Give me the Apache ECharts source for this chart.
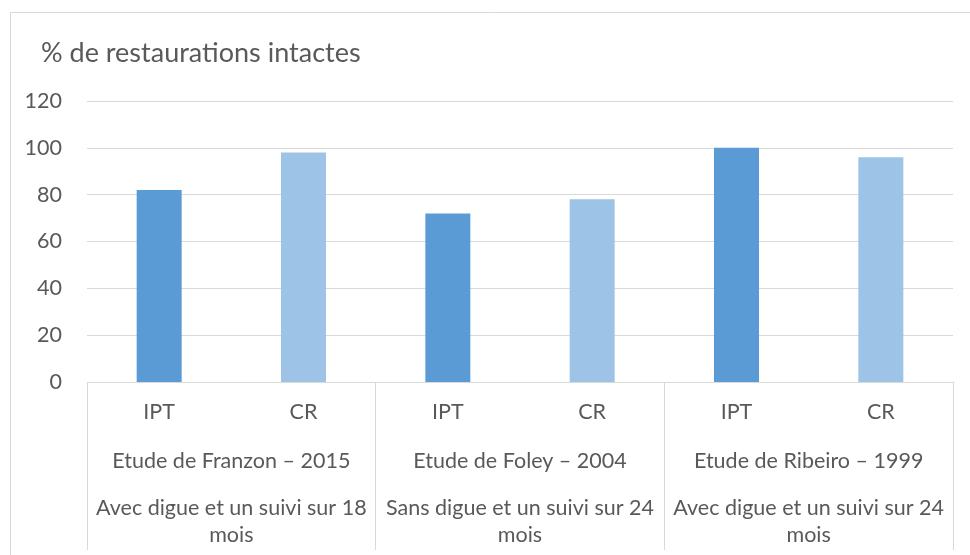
<!DOCTYPE html>
<html>
<head>
<meta charset="utf-8">
<script src="https://cdn.jsdelivr.net/npm/echarts@6/dist/echarts.min.js"></script>
<style>
  html, body { margin: 0; padding: 0; background: #fff; }
  #chart { width: 970px; height: 555px; }
</style>
</head>
<body>
<div id="chart"></div>
<script>
const treatments = ['IPT', 'CR', 'IPT', 'CR', 'IPT', 'CR'];
const values = [82, 98, 72, 78, 100, 96];
const studies = ['Etude de Franzon \u2013 2015', 'Etude de Foley \u2013 2004', 'Etude de Ribeiro \u2013 1999'];
const protocols = [
  'Avec digue et un suivi sur 18\nmois',
  'Sans digue et un suivi sur 24\nmois',
  'Avec digue et un suivi sur 24\nmois'
];
const barColors = { IPT: '#5B9BD5', CR: '#9DC3E6' };

const font = 'Lato, "Open Sans", sans-serif';
const textColor = '#595959';
const lineColor = '#d9d9d9';

const chart = echarts.init(document.getElementById('chart'));

chart.setOption({
  animation: false,
  backgroundColor: '#fff',
  textStyle: { fontFamily: font },
  title: {
    text: '% de restaurations intactes',
    left: 36,
    top: 35,
    textStyle: { color: textColor, fontSize: 27, fontWeight: 'normal', fontFamily: font }
  },
  graphic: [{
    type: 'rect',
    shape: { x: 10.5, y: 12.5, width: 1000, height: 700 },
    style: { fill: 'none', stroke: lineColor, lineWidth: 1 },
    silent: true
  }],
  grid: { left: 87, right: 17, top: 101, bottom: 173, outerBoundsMode: 'none' },
  xAxis: [
    {
      type: 'category',
      position: 'bottom',
      data: treatments,
      axisLine: { show: true, lineStyle: { color: lineColor, width: 1 } },
      axisTick: { show: false },
      axisLabel: { color: textColor, fontSize: 21.5, margin: 19, fontFamily: font, interval: 0 }
    },
    {
      type: 'category',
      position: 'bottom',
      data: studies,
      axisLine: { show: false },
      axisTick: { show: true, length: 168, lineStyle: { color: lineColor, width: 1 } },
      axisLabel: { color: textColor, fontSize: 21.5, margin: 68, fontFamily: font, interval: 0 }
    },
    {
      type: 'category',
      position: 'bottom',
      data: protocols,
      axisLine: { show: false },
      axisTick: { show: false },
      axisLabel: { color: textColor, fontSize: 21.5, lineHeight: 27, margin: 113, fontFamily: font, interval: 0 }
    }
  ],
  yAxis: {
    type: 'value',
    min: 0,
    max: 120,
    interval: 20,
    axisLine: { show: false },
    axisTick: { show: false },
    axisLabel: { color: textColor, fontSize: 21.5, margin: 25, fontFamily: font },
    splitLine: { lineStyle: { color: lineColor, width: 1 } }
  },
  series: [{
    type: 'bar',
    xAxisIndex: 0,
    barWidth: 45,
    data: values.map((v, i) => ({ value: v, itemStyle: { color: barColors[treatments[i]] } }))
  }]
});
</script>
</body>
</html>
